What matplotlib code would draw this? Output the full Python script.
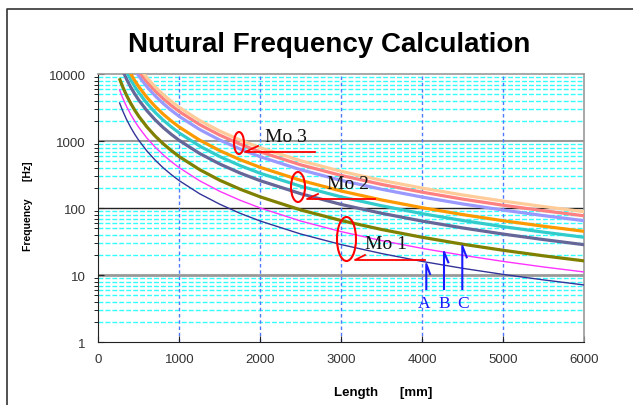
import matplotlib
matplotlib.use("Agg")
import matplotlib.pyplot as plt
from matplotlib.patches import Ellipse
from matplotlib.lines import Line2D
from matplotlib.ticker import FixedLocator, FuncFormatter

plt.rcParams['font.family'] = ['Liberation Sans', 'DejaVu Sans']

# beam length [mm] at which each curve was read
length = [260, 300, 350, 400, 450, 500, 600, 700, 800, 900, 1000, 1250, 1500,
          1750, 2000, 2500, 3000, 3500, 4000, 4500, 5000, 5500, 6000]

# Mo 1 (A, B, C)
mo1_a = [3817, 2867, 2106, 1613, 1274, 1032, 717, 527, 403, 319, 258, 165, 115,
         84.2, 64.5, 41.3, 28.7, 21.1, 16.1, 12.7, 10.3, 8.53, 7.17]
mo1_b = [5962, 4478, 3290, 2519, 1990, 1612, 1119, 822, 630, 498, 403, 258, 179,
         132, 101, 64.5, 44.8, 32.9, 25.2, 19.9, 16.1, 13.3, 11.2]
mo1_c = [8728, 6556, 4816, 3688, 2913, 2360, 1639, 1204, 922, 729, 590, 378, 262,
         193, 148, 94.4, 65.6, 48.2, 36.9, 29.1, 23.6, 19.5, 16.4]
# Mo 2 (A, B, C)
mo2_a = [15237, 11444, 8408, 6438, 5086, 4120, 2861, 2102, 1609, 1272, 1030, 659, 458,
         336, 258, 165, 114, 84.1, 64.4, 50.9, 41.2, 34.1, 28.6]
mo2_b = [19675, 14778, 10857, 8313, 6567, 5320, 3694, 2714, 2078, 1642, 1330, 851, 591,
         434, 333, 213, 148, 109, 83.1, 65.7, 53.2, 44.0, 36.9]
mo2_c = [24113, 18111, 13306, 10188, 8049, 6520, 4528, 3327, 2547, 2013, 1630, 1043, 724,
         532, 408, 261, 181, 133, 102, 80.5, 65.2, 53.9, 45.3]
# Mo 3 (A, B, C)
mo3_a = [34764, 26111, 19183, 14688, 11604, 9400, 6528, 4796, 3672, 2901, 2350, 1504, 1044,
         767, 588, 376, 261, 192, 147, 116, 94, 77.7, 65.3]
mo3_b = [41125, 30889, 22694, 17375, 13727, 11120, 7722, 5673, 4344, 3432, 2780, 1779, 1236,
         908, 695, 445, 309, 227, 174, 137, 111, 91.9, 77.2]
mo3_c = [47337, 35556, 26122, 20000, 15802, 12800, 8889, 6531, 5000, 3951, 3200, 2048, 1422,
         1045, 800, 512, 356, 261, 200, 158, 128, 106, 88.9]

series = [mo1_a, mo1_b, mo1_c, mo2_a, mo2_b, mo2_c, mo3_a, mo3_b, mo3_c]
colors = ['#333399', '#ff33ff', '#808000', '#666699', '#33cccc', '#ff9900',
          '#9999ff', '#ff8080', '#ffcc99']
widths = [1.0, 1.0, 2.3, 2.3, 2.3, 2.3, 2.3, 2.3, 2.3]

W, H = 633, 406
fig = plt.figure(figsize=(W / 100, H / 100), dpi=100)
ax = fig.add_axes([98.3 / W, 1 - 343.3 / H, 486 / W, 268 / H])


def fx(px):
    return px / W


def fy(py):
    return 1 - py / H


# grid: cyan minor lines, grey/black decades, blue verticals
for dec in [1, 10, 100, 1000]:
    for m in range(2, 10):
        ax.axhline(dec * m, color='#33ffff', lw=1.0, dashes=(3.5, 1.5), zorder=1)
ax.axhline(10, color='#999999', lw=2.0, zorder=1)
ax.axhline(1000, color='#999999', lw=1.5, zorder=1)
ax.axhline(100, color='#222222', lw=1.0, zorder=1)
for xv in [1000, 2000, 3000, 4000, 5000]:
    ax.axvline(xv, color='#4d79ff', lw=1.0, dashes=(2.5, 2), zorder=1)

for vals, c, lw in zip(series, colors, widths):
    ax.plot(length, vals, color=c, lw=lw, solid_capstyle='butt', zorder=3)

ax.set_yscale('log')
ax.set_xlim(0, 6000)
ax.set_ylim(1, 10000)
ax.set_xticks([0, 1000, 2000, 3000, 4000, 5000, 6000])
ax.yaxis.set_major_locator(FixedLocator([1, 10, 100, 1000, 10000]))
ax.yaxis.set_major_formatter(FuncFormatter(lambda v, p: '%d' % v))
ax.yaxis.set_minor_formatter(FuncFormatter(lambda v, p: ''))
ax.tick_params(axis='both', direction='in', labelsize=9.5, labelcolor='#333333', color='#222222')
ax.tick_params(axis='x', pad=8, length=4)
ax.tick_params(axis='y', which='major', pad=9, length=4)
ax.tick_params(axis='y', which='minor', length=3)
for s in ['top', 'right']:
    ax.spines[s].set_color('#999999')
    ax.spines[s].set_linewidth(1.2)
for s in ['left', 'bottom']:
    ax.spines[s].set_color('#222222')

fig.text(fx(329), fy(45), 'Nutural Frequency Calculation', ha='center', va='center',
         fontsize=20, fontweight='bold')
fig.text(fx(383), fy(393), 'Length      [mm]', ha='center', va='center',
         fontsize=9.5, fontweight='bold')
fig.text(fx(28), fy(206), 'Frequency      [Hz]', ha='center', va='center',
         rotation=90, fontsize=7.5, fontweight='bold')

# mode callouts
serif = ['Liberation Serif', 'DejaVu Serif']
callouts = [
    ('Mo 3', (286, 138), (239, 144), (10, 22), (245, 153), (315, 153), (258, 147)),
    ('Mo 2', (348, 185), (298, 188), (14, 30), (307, 200), (375, 200), (318, 195)),
    ('Mo 1', (386, 245), (346.5, 240), (19, 44), (355, 261), (425, 261), (365, 256)),
]
for label, tpos, epos, esize, p0, p1, barb in callouts:
    fig.text(fx(tpos[0]), fy(tpos[1]), label, ha='center', va='center',
             fontsize=14, family=serif, color='#111111', zorder=6)
    fig.patches.append(Ellipse((fx(epos[0]), fy(epos[1])), esize[0] / W, esize[1] / H,
                               transform=fig.transFigure, fill=False,
                               edgecolor='#ff0000', lw=1.5, zorder=6))
    fig.lines.append(Line2D([fx(p1[0]), fx(p0[0]), fx(barb[0])],
                            [fy(p1[1]), fy(p0[1]), fy(barb[1])],
                            transform=fig.transFigure, color='#ff0000', lw=1.3))

# A, B, C pointers
pointers = [('A', 424, 426.3, 265, (430, 275)),
            ('B', 444, 444, 253, (448.3, 263.3)),
            ('C', 463, 462.3, 247, (466.7, 258.3))]
for label, tx, lx, top, barb in pointers:
    fig.text(fx(tx), fy(304), label, ha='center', va='center',
             fontsize=12.5, family=serif, color='#1a1aff')
    fig.lines.append(Line2D([fx(lx), fx(lx), fx(barb[0])],
                            [fy(290), fy(top), fy(barb[1])],
                            transform=fig.transFigure, color='#1a1aff', lw=1.5))

# outer frame (left and top edges)
fig.lines.append(Line2D([fx(7), fx(7), fx(633)], [fy(406), fy(10), fy(10)],
                        transform=fig.transFigure, color='#333333', lw=1.2))

fig.savefig('out.png', dpi=100)
